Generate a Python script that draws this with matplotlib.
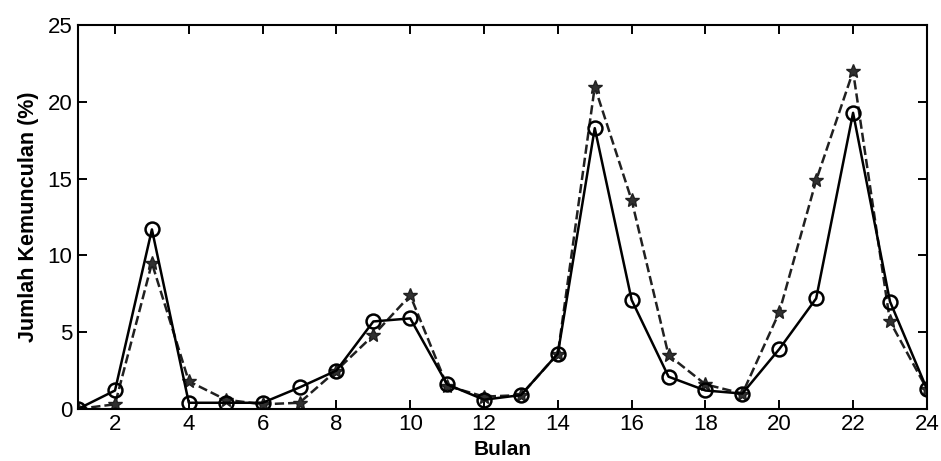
import numpy as np
import matplotlib
matplotlib.use('Agg')
import matplotlib.pyplot as plt

plt.rcParams['font.family'] = ['Liberation Sans Narrow', 'Liberation Sans', 'DejaVu Sans']

bulan = list(range(1, 25))
# solid line, open circles
seri_o = [0, 1.2, 11.7, 0.4, 0.4, 0.4, 1.4, 2.5, 5.7, 5.9, 1.6, 0.6,
          0.9, 3.6, 18.3, 7.1, 2.1, 1.2, 1.0, 3.9, 7.2, 19.3, 7.0, 1.3]
# dashed line, stars
seri_s = [0, 0.3, 9.5, 1.8, 0.6, 0.3, 0.4, 2.5, 4.8, 7.4, 1.5, 0.8,
          0.9, 3.6, 21.0, 13.6, 3.5, 1.6, 1.0, 6.3, 14.9, 22.0, 5.7, 1.3]

xticks = list(range(2, 25, 2))
yticks = [0, 5, 10, 15, 20, 25]

fig = plt.figure(figsize=(9.41, 4.61), dpi=100)
ax = fig.add_axes([0.083, 0.113, 0.902, 0.832])

ax.plot(bulan, seri_s, color='#202020', linestyle='--', linewidth=1.8,
        marker='*', markersize=10, markerfacecolor='#303030', markeredgecolor='#202020')
ax.plot(bulan, seri_o, color='black', linestyle='-', linewidth=1.8,
        marker='o', markersize=10, markerfacecolor='none', markeredgecolor='black',
        markeredgewidth=1.8)

ax.set_xlim(1, 24)
ax.set_ylim(0, 25)
ax.set_xticks(xticks)
ax.set_yticks(yticks)
ax.tick_params(direction='in', top=True, right=True, length=6.5, width=1.4,
               labelsize=16, pad=4)
for s in ax.spines.values():
    s.set_linewidth(1.5)

ax.set_xlabel('Bulan', fontsize=15, fontweight='bold', labelpad=3,
              family=['Liberation Sans', 'DejaVu Sans'])
ax.set_ylabel('Jumlah Kemunculan (%)', fontsize=15.5, fontweight='bold', labelpad=6,
              family=['Liberation Sans', 'DejaVu Sans'])

fig.savefig('out.png', dpi=100)
